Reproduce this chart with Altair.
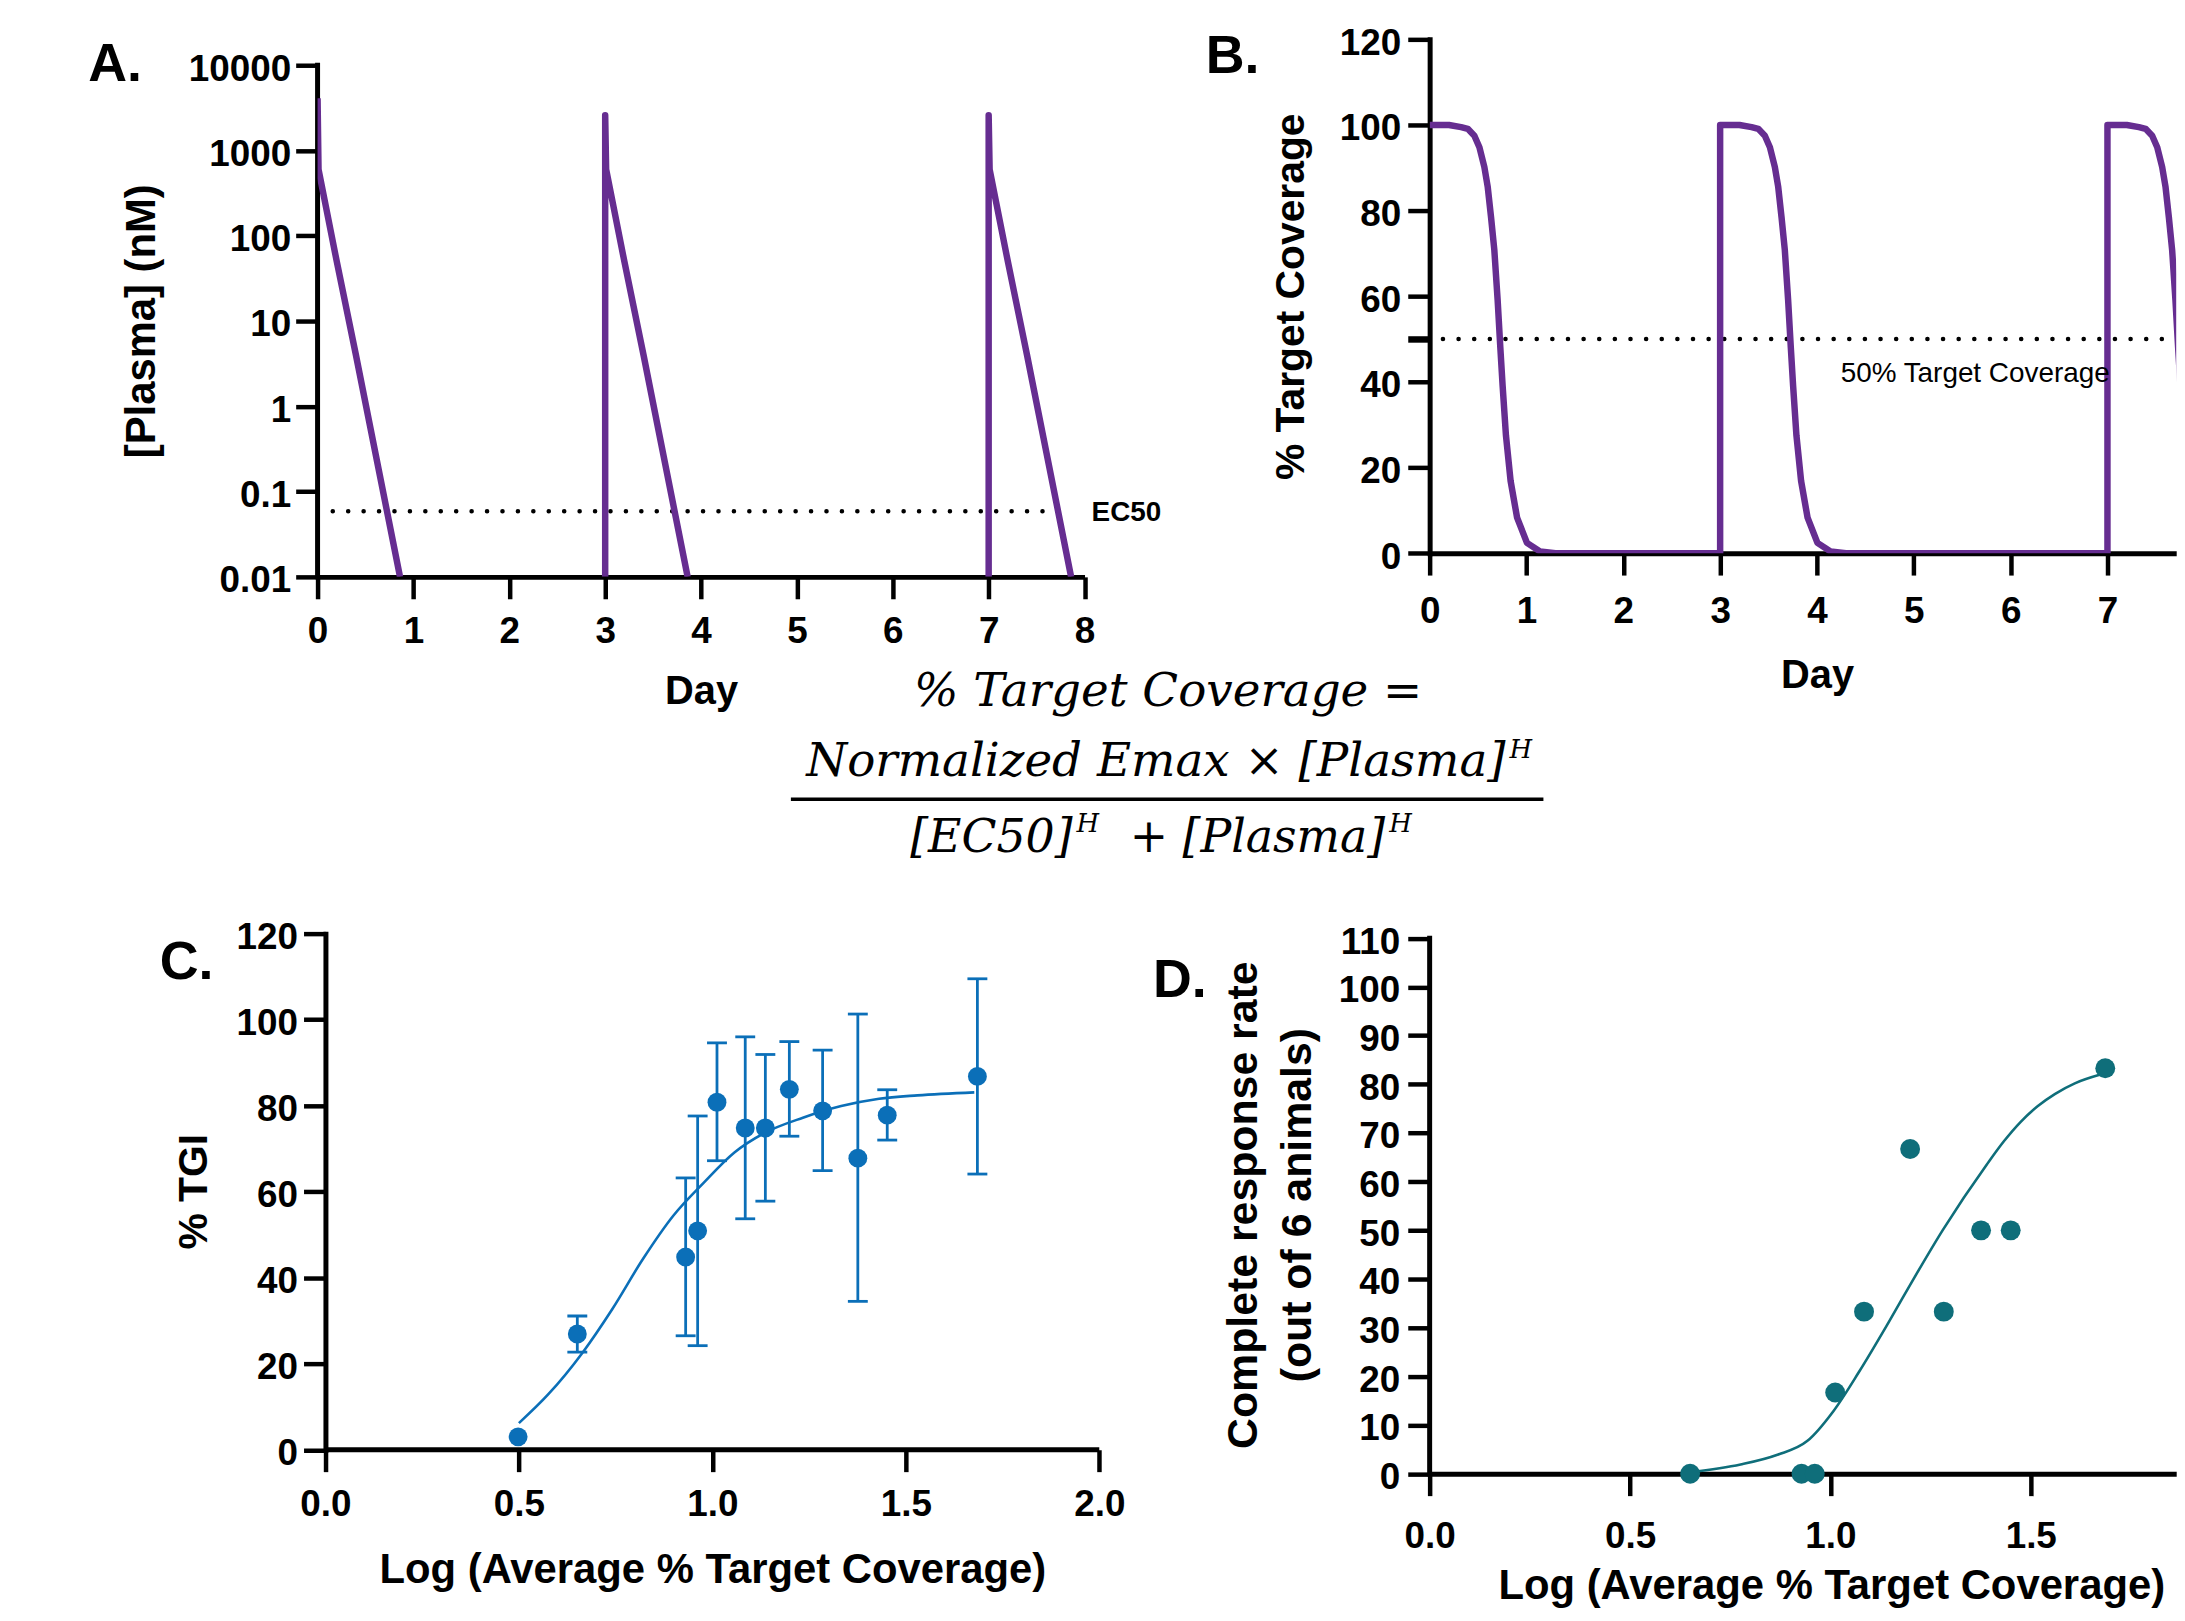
import altair as alt
import pandas as pd

FONT = "Liberation Sans, Arial, sans-serif"
SERIF = "DejaVu Serif, serif"
PURPLE = "#662D91"
BLUE = "#0B6FB8"
TEAL = "#0F6E7A"

# ---------------- Panel A : plasma concentration (nM) ----------------
a_dose_days = [0, 3, 7]
a_peak_conc = [4100, 2600, 2600]
a_decay_offset = [0.01, 0.20, 0.40, 0.86]
a_decay_conc = [600, 50, 4, 0.01]
a_floor = 0.01
ec50 = 0.059
ec50_line_days = [0.158, 7.845]
a_ticks_y = [0.01, 0.1, 1, 10, 100, 1000, 10000]
a_ticks_x = [0, 1, 2, 3, 4, 5, 6, 7, 8]

# ---------------- Panel B : % target coverage ----------------
b_dose_days = [0, 3, 7]
b_offset = [0, 0.2, 0.325, 0.394, 0.462, 0.514, 0.565, 0.6, 0.634, 0.668,
            0.702, 0.73, 0.754, 0.788, 0.836, 0.903, 1.005, 1.14, 1.3]
b_cov = [100, 100, 99.5, 99.1, 97.5, 94.8, 90.2, 85.5, 78.5, 70.8,
         59.2, 48, 39, 27.5, 16.9, 8.3, 2.4, 0.4, 0]
b_line50 = 50
b_line50_days = [0.137, 7.70]
b_ticks_y = [0, 20, 40, 50, 60, 80, 100, 120]
b_ticks_x = [0, 1, 2, 3, 4, 5, 6, 7]
b_label_day = 4.245

# ---------------- Panel C : % TGI ----------------
c_x = [0.498, 0.651, 0.931, 0.962, 1.012, 1.085, 1.137, 1.199, 1.285, 1.376, 1.452, 1.685]
c_y = [3.0, 26.9, 44.8, 50.9, 80.8, 74.8, 74.8, 83.8, 78.8, 67.8, 77.8, 86.8]
c_lo = [None, 22.7, 26.5, 24.2, 67.2, 53.7, 57.8, 72.9, 64.9, 34.5, 72.0, 64.1]
c_hi = [None, 31.1, 63.2, 77.6, 94.6, 96.0, 91.9, 94.9, 92.9, 101.3, 83.7, 109.5]
c_fit_x = [0.5, 0.575, 0.663, 0.742, 0.821, 0.899, 0.978, 1.057, 1.136, 1.234, 1.333, 1.431, 1.53, 1.677]
c_fit_y = [6.2, 12.8, 22.4, 32.8, 44.4, 54.4, 62.1, 69.1, 73.7, 77.2, 79.9, 81.6, 82.4, 83.1]
c_ticks_x = [0, 0.5, 1.0, 1.5, 2.0]
c_ticks_y = [0, 20, 40, 60, 80, 100, 120]

# ---------------- Panel D : complete response rate ----------------
d_x = [0.650, 0.928, 0.961, 1.012, 1.084, 1.199, 1.283, 1.376, 1.450, 1.686]
d_y = [0, 0, 0, 16.7, 33.3, 66.7, 33.3, 50.0, 50.0, 83.3]
d_fit_x = [0.65, 0.776, 0.868, 0.942, 1.007, 1.072, 1.146, 1.211, 1.28, 1.39, 1.433,
           1.475, 1.517, 1.56, 1.61, 1.674]
d_fit_y = [0.3, 1.9, 3.9, 6.7, 12.8, 21.0, 31.2, 40.5, 50.0, 63.5, 68.3,
           72.3, 75.5, 78.0, 80.2, 82.0]
d_ticks_x = [0, 0.5, 1.0, 1.5]
d_ticks_y = [0, 10, 20, 30, 40, 50, 60, 70, 80, 90, 100, 110]

# ---------------- texts ----------------
panel_labels = ["A.", "B.", "C.", "D."]
eq_line1 = "% Target Coverage ="
eq_num = "Normalized Emax  \u00d7 [Plasma]"
eq_den_a = "[EC50]"
eq_den_b = "+  [Plasma]"
eq_sup = "H"
ec50_label = "EC50"
cov50_label = "50% Target Coverage"
titleA_x, titleA_y = "Day", "[Plasma] (nM)"
titleB_x, titleB_y = "Day", "% Target Coverage"
titleC_x, titleC_y = "Log (Average % Target Coverage)", "% TGI"
titleD_x, titleD_y = "Log (Average % Target Coverage)", ["Complete response rate", "(out of 6 animals)"]

# ---------------- build tables ----------------
rowsA = []
for i, d in enumerate(a_dose_days):
    seq = []
    if i > 0:
        seq.append((d, a_floor))
    seq.append((d, a_peak_conc[i]))
    for o, c in zip(a_decay_offset, a_decay_conc):
        seq.append((d + o, c))
    for k, (x, y) in enumerate(seq):
        rowsA.append({"day": x, "conc": y, "dose": i, "k": k})
dfA = pd.DataFrame(rowsA)

rowsB = []
k = 0
for i, d in enumerate(b_dose_days):
    if i > 0:
        rowsB.append({"day": d, "cov": 0, "k": k}); k += 1
    for o, c in zip(b_offset, b_cov):
        rowsB.append({"day": d + o, "cov": c, "k": k}); k += 1
dfB = pd.DataFrame(rowsB)

dfC = pd.DataFrame({"x": c_x, "y": c_y, "lo": c_lo, "hi": c_hi})
dfCerr = dfC.dropna()
dfCfit = pd.DataFrame({"x": c_fit_x, "y": c_fit_y})
dfD = pd.DataFrame({"x": d_x, "y": d_y})
dfDfit = pd.DataFrame({"x": d_fit_x, "y": d_fit_y})


def text_mark(s, x, y, size, weight="bold", font=FONT, align="left",
              baseline="alphabetic", style="normal"):
    return alt.Chart(pd.DataFrame({"t": [s]})).mark_text(
        align=align, baseline=baseline, font=font, fontSize=size,
        fontWeight=weight, fontStyle=style, color="black"
    ).encode(text="t:N", x=alt.value(x), y=alt.value(y))


PANEL_FS = 54

# ================= Panel A =================
A_W, A_H = 770.5, 540
xA = alt.Scale(domain=[0, 8], nice=False, zero=False)
yA = alt.Scale(type="log", domain=[0.01, 20111], nice=False)

a_axis_line = alt.Chart(pd.DataFrame({"x": [0], "y1": [a_ticks_y[0]], "y2": [a_ticks_y[-1]]})).mark_rule(
    color="black", strokeWidth=5, strokeCap="square"
).encode(x=alt.X("x:Q", scale=xA, title=titleA_x),
         y=alt.Y("y1:Q", scale=yA, title=titleA_y), y2="y2:Q")

a_lines = alt.Chart(dfA).mark_line(color=PURPLE, strokeWidth=6.5, clip=True, strokeJoin="round").encode(
    x=alt.X("day:Q", scale=xA, title=titleA_x,
            axis=alt.Axis(values=a_ticks_x, format="d",
                          titleX=A_W / 2, titleY=115.6, titleFontSize=40,
                          labelPadding=15)),
    y=alt.Y("conc:Q", scale=yA, title=titleA_y,
            axis=alt.Axis(values=a_ticks_y, format="~g",
                          titleX=-176.8, titleY=282.7, titleFontSize=42,
                          domain=False, labelPadding=5, labelOffset=4)),
    detail="dose:N",
    order="k:Q",
)

a_ec50 = alt.Chart(pd.DataFrame({"x1": [ec50_line_days[0]], "x2": [ec50_line_days[1]], "y": [ec50]})).mark_rule(
    color="black", strokeWidth=4.5, strokeDash=[0.1, 15.4], strokeCap="round"
).encode(x=alt.X("x1:Q", scale=xA, title=titleA_x), x2="x2:Q",
         y=alt.Y("y:Q", scale=yA, title=titleA_y))

a_ec50_text = alt.Chart(pd.DataFrame({"x": [ec50_line_days[1]], "y": [ec50], "t": [ec50_label]})).mark_text(
    align="left", baseline="middle", dx=22, dy=1.5, font=FONT, fontSize=28, fontWeight="bold", color="black"
).encode(x=alt.X("x:Q", scale=xA, title=titleA_x),
         y=alt.Y("y:Q", scale=yA, title=titleA_y), text="t:N")

EQ1 = 47
EQ3 = 46
SUP = 26
eq_layers = [
    text_mark(eq_line1, 854.5, 669.7, EQ1, weight="normal", font=SERIF, align="center", style="italic"),
    text_mark(eq_num, 1193.5, 739.7, EQ1, weight="normal", font=SERIF, align="right", style="italic"),
    text_mark(eq_sup, 1197.5, 721.7, SUP, weight="normal", font=SERIF, align="left", style="italic"),
    alt.Chart(pd.DataFrame({"a": [0]})).mark_rule(color="black", strokeWidth=3.3).encode(
        x=alt.value(475.5), x2=alt.value(1231.5), y=alt.value(763.4)),
    text_mark(eq_den_a, 758.5, 816.7, EQ3, weight="normal", font=SERIF, align="right", style="italic"),
    text_mark(eq_sup, 762.5, 796.0, SUP, weight="normal", font=SERIF, align="left", style="italic"),
    text_mark(eq_den_b, 1072.5, 816.7, EQ3, weight="normal", font=SERIF, align="right", style="italic"),
    text_mark(eq_sup, 1076.5, 796.0, SUP, weight="normal", font=SERIF, align="left", style="italic"),
]

panelA = alt.layer(
    a_axis_line, a_ec50, a_lines, a_ec50_text,
    text_mark(panel_labels[0], -230.5, 41.7, PANEL_FS),
    *eq_layers
).properties(width=A_W, height=A_H)

# ================= Panel B =================
B_W, B_H = 750, 516.2
xB = alt.Scale(domain=[0, 7.71], nice=False, zero=False)
yB = alt.Scale(domain=[0, 120], nice=False)

b_50 = alt.Chart(pd.DataFrame({"x1": [b_line50_days[0]], "x2": [b_line50_days[1]], "y": [b_line50]})).mark_rule(
    color="black", strokeWidth=4.5, strokeDash=[0.1, 15.6], strokeCap="round", clip=True
).encode(x=alt.X("x1:Q", scale=xB, title=titleB_x), x2="x2:Q",
         y=alt.Y("y:Q", scale=yB, title=titleB_y))

b_line = alt.Chart(dfB).mark_line(color=PURPLE, strokeWidth=6.5, clip=True, strokeJoin="round").encode(
    x=alt.X("day:Q", scale=xB, title=titleB_x,
            axis=alt.Axis(values=b_ticks_x, format="d",
                          titleX=389.2, titleY=123.4, titleFontSize=40,
                          labelPadding=19)),
    y=alt.Y("cov:Q", scale=yB, title=titleB_y,
            axis=alt.Axis(values=b_ticks_y, format="d",
                          labelExpr="datum.value == 50 ? '' : datum.label",
                          tickWidth={"condition": {"test": "datum.value == 50", "value": 6.5},
                                     "value": 4.5},
                          titleX=-138.7, titleY=258.1, titleFontSize=41,
                          labelPadding=7, labelOffset=4, domainCap="square")),
    order="k:Q",
)

b_text = alt.Chart(pd.DataFrame({"x": [b_label_day], "y": [b_line50], "t": [cov50_label]})).mark_text(
    align="left", baseline="alphabetic", dy=43, font=FONT, fontSize=28, fontWeight="normal", color="black"
).encode(x=alt.X("x:Q", scale=xB, title=titleB_x),
         y=alt.Y("y:Q", scale=yB, title=titleB_y), text="t:N")

panelB = alt.layer(
    b_50, b_line, b_text,
    text_mark(panel_labels[1], -225, 33.4, PANEL_FS),
).properties(width=B_W, height=B_H)

# ================= Panel C =================
C_W, C_H = 785.3, 518.5
xC = alt.Scale(domain=[-0.0203, 2.0], nice=False, zero=False)
yC = alt.Scale(domain=[0, 120], nice=False)

c_axis_line = alt.Chart(pd.DataFrame({"x1": [0], "x2": [2.0], "y": [0]})).mark_rule(
    color="black", strokeWidth=5
).encode(x=alt.X("x1:Q", scale=xC, title=titleC_x), x2="x2:Q",
         y=alt.Y("y:Q", scale=yC, title=titleC_y))

c_fit = alt.Chart(dfCfit).mark_line(color=BLUE, strokeWidth=2.6, interpolate="monotone").encode(
    x=alt.X("x:Q", scale=xC, title=titleC_x), y=alt.Y("y:Q", scale=yC, title=titleC_y))

c_err = alt.Chart(dfCerr).mark_rule(color=BLUE, strokeWidth=2.8).encode(
    x=alt.X("x:Q", scale=xC, title=titleC_x),
    y=alt.Y("lo:Q", scale=yC, title=titleC_y), y2="hi:Q")
c_cap_lo = alt.Chart(dfCerr).mark_tick(color=BLUE, orient="horizontal", size=20, thickness=2.8, opacity=1).encode(
    x=alt.X("x:Q", scale=xC, title=titleC_x), y=alt.Y("lo:Q", scale=yC, title=titleC_y))
c_cap_hi = alt.Chart(dfCerr).mark_tick(color=BLUE, orient="horizontal", size=20, thickness=2.8, opacity=1).encode(
    x=alt.X("x:Q", scale=xC, title=titleC_x), y=alt.Y("hi:Q", scale=yC, title=titleC_y))

c_pts = alt.Chart(dfC).mark_circle(color=BLUE, size=360, opacity=1).encode(
    x=alt.X("x:Q", scale=xC, title=titleC_x,
            axis=alt.Axis(values=c_ticks_x, format=".1f",
                          titleX=396.6, titleY=120.2, titleFontSize=42,
                          labelPadding=14.6, domain=False)),
    y=alt.Y("y:Q", scale=yC, title=titleC_y,
            axis=alt.Axis(values=c_ticks_y, format="d",
                          titleX=-131.5, titleY=258.8, titleFontSize=41,
                          offset=-7.9, labelPadding=6, labelOffset=4,
                          domainCap="square")),
)

panelC = alt.layer(
    c_axis_line, c_fit, c_err, c_cap_lo, c_cap_hi, c_pts,
    text_mark(panel_labels[2], -158.5, 45.3, PANEL_FS),
).properties(width=C_W, height=C_H)

# ================= Panel D =================
D_W, D_H = 750, 542.6
xD = alt.Scale(domain=[0, 1.863], nice=False, zero=False)
yD = alt.Scale(domain=[0, 110.96], nice=False)

d_axis_line = alt.Chart(pd.DataFrame({"x": [0], "y1": [0], "y2": [110]})).mark_rule(
    color="black", strokeWidth=5, strokeCap="square"
).encode(x=alt.X("x:Q", scale=xD, title=titleD_x),
         y=alt.Y("y1:Q", scale=yD, title=titleD_y), y2="y2:Q")

d_fit = alt.Chart(dfDfit).mark_line(color=TEAL, strokeWidth=2.6, interpolate="monotone").encode(
    x=alt.X("x:Q", scale=xD, title=titleD_x), y=alt.Y("y:Q", scale=yD, title=titleD_y))

d_pts = alt.Chart(dfD).mark_circle(color=TEAL, size=400, opacity=1).encode(
    x=alt.X("x:Q", scale=xD, title=titleD_x,
            axis=alt.Axis(values=d_ticks_x, format=".1f",
                          titleX=403.5, titleY=112.7, titleFontSize=42,
                          labelPadding=23.6)),
    y=alt.Y("y:Q", scale=yD, title=titleD_y,
            axis=alt.Axis(values=d_ticks_y, format="d",
                          titleX=-186.6, titleY=272.3, titleFontSize=43,
                          titleLineHeight=54, domain=False,
                          labelPadding=8, labelOffset=4)),
)

panelD = alt.layer(
    d_axis_line, d_fit, d_pts,
    text_mark(panel_labels[3], -278, 63.3, PANEL_FS),
).properties(width=D_W, height=D_H)

# ================= Layout =================
chart = alt.concat(
    panelA, panelB, panelC, panelD,
    columns=2,
    spacing={"row": 358.4, "column": 331.2},
    bounds="flush",
    align="each",
).properties(
    padding={"left": 80, "top": 12.8, "right": 0, "bottom": 0}
).configure_view(
    stroke=None
).configure_axis(
    labelFont=FONT, labelFontWeight="bold", labelFontSize=37, labelColor="black",
    titleFont=FONT, titleFontWeight="bold", titleColor="black",
    titleBaseline="middle", titleAlign="center",
    tickColor="black", tickWidth=4.5, tickSize=22,
    domainColor="black", domainWidth=5,
    grid=False, labelFlush=False, labelOverlap=False,
)

chart.save("out.html", embed_options={"renderer": "svg", "actions": False})
